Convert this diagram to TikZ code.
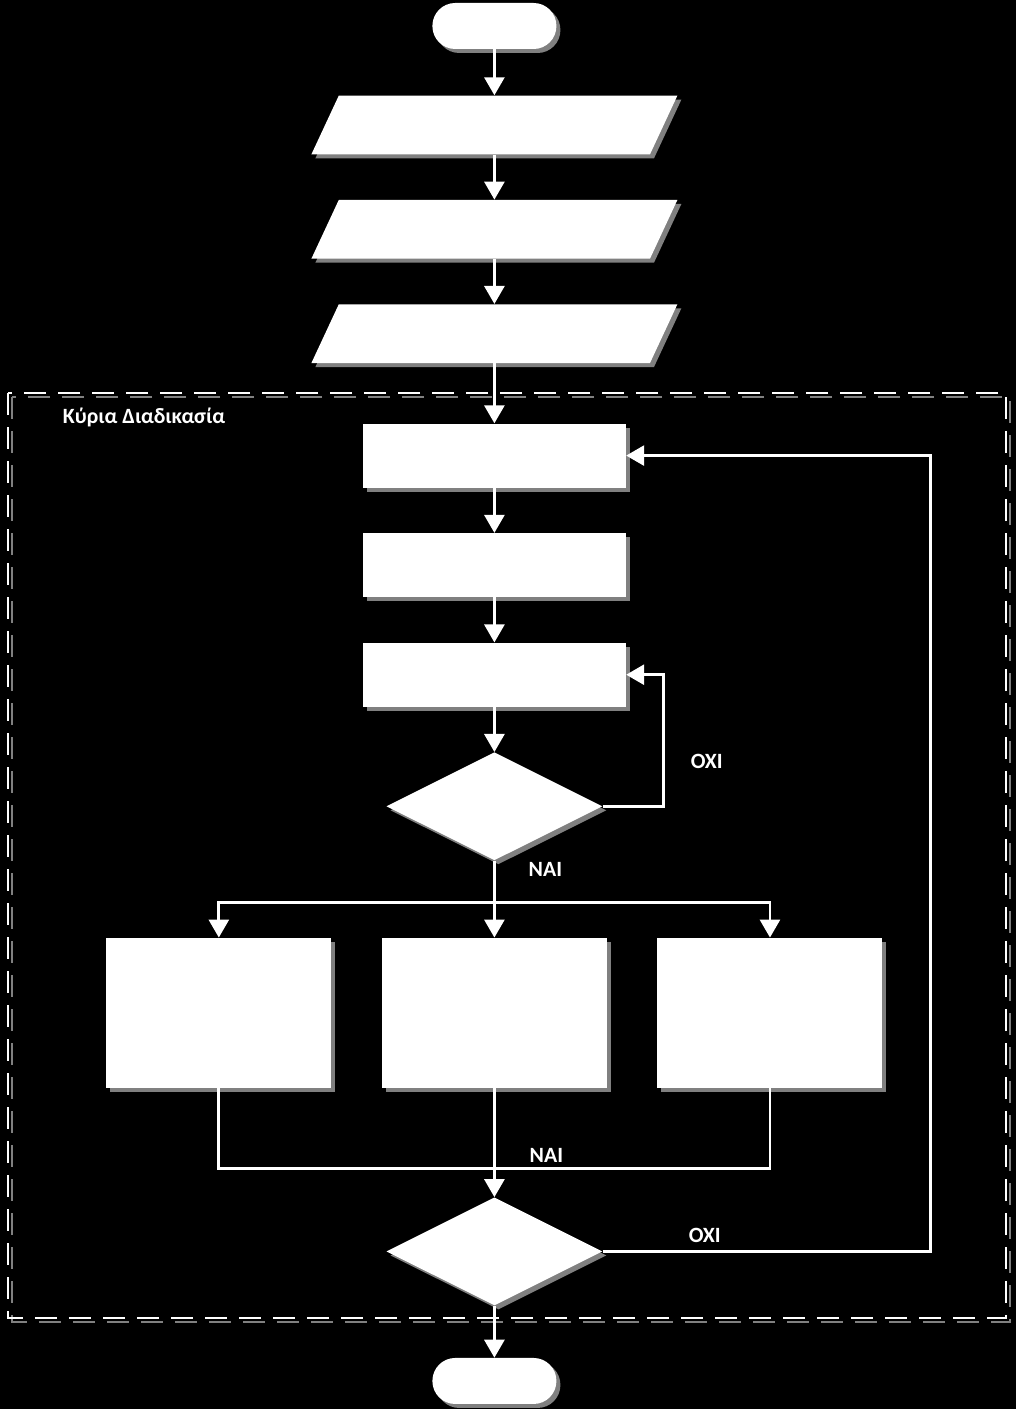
\documentclass[tikz,border=0pt]{standalone}
\usepackage{fontspec}
\setmainfont{Carlito}
\usetikzlibrary{shapes.geometric,arrows.meta,positioning,calc,shadows}
\tikzset{
  flowshadow/.style={drop shadow={shadow xshift=1mm, shadow yshift=-1mm, fill=gray, opacity=1}},
  termbox/.style={rectangle, rounded corners=5.7mm, fill=white, flowshadow,
                  minimum width=3.1cm, minimum height=1.15cm, inner sep=0pt},
  iobox/.style={trapezium, trapezium left angle=65, trapezium right angle=115,
                trapezium stretches body=true, fill=white, flowshadow,
                minimum width=9.15cm, inner xsep=2pt, inner ysep=14.9pt},
  procbox/.style={rectangle, fill=white, flowshadow, minimum width=6.575cm,
                  minimum height=1.6cm, inner sep=0pt},
  bigbox/.style={rectangle, fill=white, flowshadow, minimum width=5.625cm,
                 minimum height=3.75cm, inner sep=0pt},
  decbox/.style={diamond, aspect=2, fill=white, flowshadow, minimum width=5.4cm,
                 minimum height=2.7cm, inner sep=0pt},
  flowline/.style={draw=white, line width=2pt},
  flowarr/.style={flowline, -{Triangle[length=4.5mm, width=5mm]}},
  lbl/.style={text=white, font=\fontsize{15.5}{18}\selectfont\bfseries},
  framedash/.style={line width=2pt, dash pattern=on 5.5mm off 3mm},
}

\begin{document}
\begin{tikzpicture}[node distance=11.25mm]
    \fill[black] (0,0) rectangle (25.4,-35.225);
    % main process frame
    \draw[framedash, gray] (0.3,-9.925) rectangle (25.25,-33.05);
    \draw[framedash, white] (0.2,-9.825) rectangle (25.15,-32.95);
    \node[lbl, anchor=west] (title) at (1.45,-10.425) {Κύρια Διαδικασία};

    \node[termbox]                 (start) at (12.36,-0.65) {};
    \node[iobox, below=11.5mm of start] (in1) {\strut};
    \node[iobox, below=of in1]     (in2) {\strut};
    \node[iobox, below=of in2]     (in3) {\strut};
    \node[procbox, below=15mm of in3] (proc1) {};
    \node[procbox, below=of proc1] (proc2) {};
    \node[procbox, below=of proc2] (proc3) {};
    \node[decbox, below=of proc3]  (dec1) {};
    \node[bigbox, below=19.25mm of dec1] (boxM) {};
    \node[bigbox, left=12.5mm of boxM]  (boxL) {};
    \node[bigbox, right=12.5mm of boxM] (boxR) {};
    \node[decbox, below=27.25mm of boxM] (dec2) {};
    \node[termbox, below=13mm of dec2]  (stop) {};

    \draw[flowarr] (start)--(in1);
    \draw[flowarr] (in1)--(in2);
    \draw[flowarr] (in2)--(in3);
    \draw[flowarr] (in3)--(proc1);
    \draw[flowarr] (proc1)--(proc2);
    \draw[flowarr] (proc2)--(proc3);
    \draw[flowarr] (proc3)--(dec1);
    % inner loop
    \draw[flowarr] (dec1.east) -- ++(1.525,0) |- (proc3.east);
    \node[lbl] (no1) at ($(dec1.east)+(2.6,1.125)$) {OXI};
    % split into three branches
    \draw[flowline] (dec1.south) -- ++(0,-1.05) coordinate (split);
    \node[lbl] (yes1) at ($(dec1.south)+(1.275,-0.225)$) {NAI};
    \draw[flowarr] (split) -| (boxL.north);
    \draw[flowarr] (split) -- (boxM.north);
    \draw[flowarr] (split) -| (boxR.north);
    % join
    \draw[flowline] (boxL.south) -- ++(0,-2) -| (boxR.south);
    \draw[flowarr] (boxM.south) -- (dec2.north);
    \node[lbl] (yes2) at ($(dec2.north)+(1.3,1.05)$) {NAI};
    % outer loop
    \draw[flowarr] (dec2.east) -- ++(8.2,0) |- (proc1.east);
    \node[lbl] (no2) at ($(dec2.east)+(2.55,0.4)$) {OXI};
    \draw[flowarr] (dec2)--(stop);
  \end{tikzpicture}
\end{document}
